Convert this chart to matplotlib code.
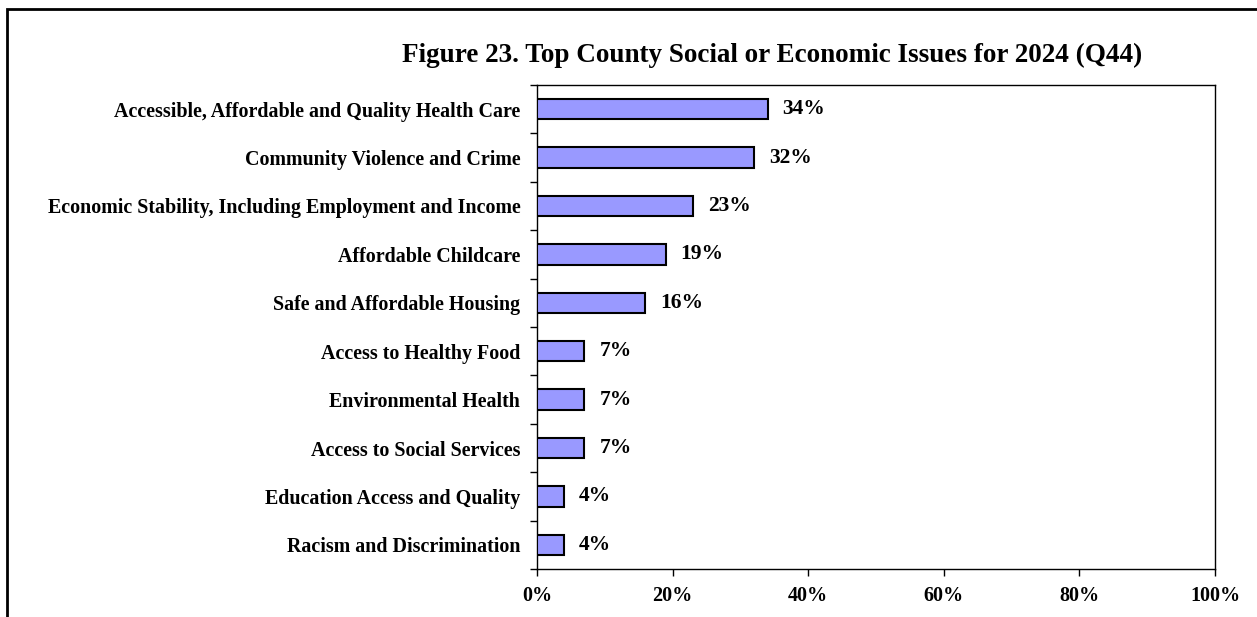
import matplotlib.pyplot as plt
from matplotlib.patches import Rectangle

categories = [
    'Accessible, Affordable and Quality Health Care',
    'Community Violence and Crime',
    'Economic Stability, Including Employment and Income',
    'Affordable Childcare',
    'Safe and Affordable Housing',
    'Access to Healthy Food',
    'Environmental Health',
    'Access to Social Services',
    'Education Access and Quality',
    'Racism and Discrimination',
]
percents = [34, 32, 23, 19, 16, 7, 7, 7, 4, 4]
xticks = [0, 20, 40, 60, 80, 100]

plt.rcParams['font.family'] = ['Liberation Serif', 'DejaVu Serif']
plt.rcParams['font.weight'] = 'bold'

fig = plt.figure(figsize=(12.57, 6.17), dpi=100)
W, H = 1257, 617
ax = fig.add_axes([537 / W, 1 - 569 / H, (1215 - 537) / W, (569 - 85) / H])

n = len(categories)
ypos = list(range(n))
ax.barh(ypos, percents, height=0.42, color='#9999FF', edgecolor='black',
        linewidth=1.5, zorder=3)
for y, v in zip(ypos, percents):
    ax.text(v + 2.2, y, f'{v}%', va='center', ha='left', fontsize=15.5,
            fontweight='bold')

ax.set_ylim(n - 0.5, -0.5)
ax.set_xlim(0, 100)
ax.set_xticks(xticks)
ax.set_xticklabels([f'{t}%' for t in xticks], fontsize=14.5, fontweight='bold')
ax.set_yticks(ypos)
ax.set_yticklabels(categories, fontsize=14.4, fontweight='bold')
ax.tick_params(axis='y', length=0, pad=12)
ax.tick_params(axis='x', length=5, width=1, pad=7)

# category separators drawn as outward minor ticks
ax.set_yticks([i - 0.5 for i in range(n + 1)], minor=True)
ax.tick_params(axis='y', which='minor', length=5, width=1, direction='out')

for s in ax.spines.values():
    s.set_linewidth(1)

fig.text(772 / W, 1 - 55 / H,
         'Figure 23. Top County Social or Economic Issues for 2024 (Q44)',
         ha='center', va='center', fontsize=19.5, fontweight='bold')

# outer frame, open on the right and bottom
frame = Rectangle((7 / W, -0.1), 1.2, 1 - 9 / H + 0.1, transform=fig.transFigure,
                  fill=False, edgecolor='black', linewidth=2, clip_on=False)
fig.patches.append(frame)

fig.savefig('out.png', dpi=100)
